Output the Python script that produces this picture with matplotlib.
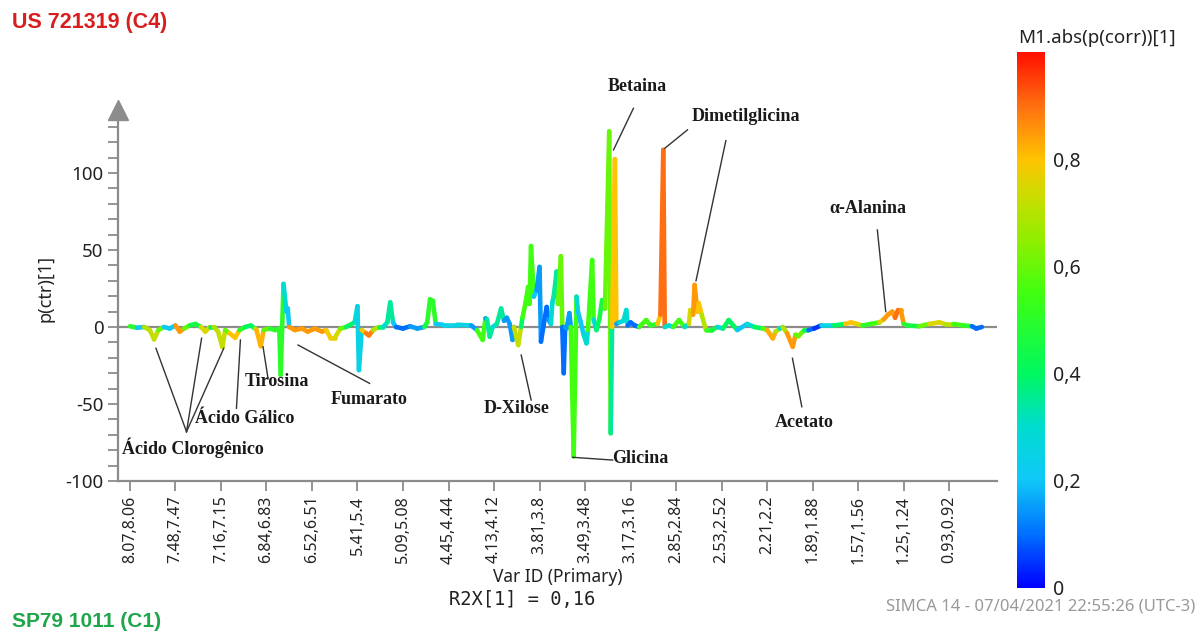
import numpy as np
import matplotlib
matplotlib.use("Agg")
import matplotlib.pyplot as plt
from matplotlib.collections import LineCollection
from matplotlib.colors import LinearSegmentedColormap, Normalize
from matplotlib.cm import ScalarMappable

# loading p(ctr)[1] per variable (index along Var ID axis) and |p(corr)| colour value
var_idx = [0, 5, 10, 14, 17, 20, 24, 28, 32, 35, 38, 42, 46, 50, 53, 56, 59, 62, 65, 67,
           70, 74, 77, 81, 85, 88, 89, 92, 94, 98, 102, 105, 106, 108, 110, 111, 112, 116, 121, 125,
           130, 135, 138, 141, 144, 148, 152, 158, 160, 161, 163, 166, 168, 171, 175, 178, 181, 183, 185, 187,
           192, 197, 202, 207, 209, 211, 213, 215, 220, 230, 240, 244, 248, 250, 251, 253, 255, 258, 261, 263,
           265, 267, 269, 270, 273, 275, 276, 278, 280, 281, 282, 284, 286, 288, 289, 291, 293, 294, 296, 297,
           298, 300, 301, 303, 304, 305, 306, 307, 309, 310, 312, 314, 315, 317, 319, 321, 322, 325, 326, 328,
           330, 332, 334, 337, 338, 339, 341, 342, 344, 347, 349, 350, 352, 355, 358, 363, 366, 371, 373, 375,
           376, 379, 382, 386, 390, 393, 394, 396, 397, 399, 400, 402, 405, 409, 413, 417, 421, 427, 434, 439,
           445, 448, 452, 454, 457, 459, 462, 466, 468, 470, 474, 477, 481, 486, 495, 503, 507, 511, 515, 521,
           527, 530, 533, 536, 538, 540, 542, 544, 547, 555, 562, 569, 573, 579, 586, 592, 595, 599]
p_ctr = [0.5, -0.5, 0, -2, -8, -2, 0, -1, 1, -3, -1, 1, 2, 0, -3, 0, 0, -3, -13, -2,
         -4, -7, -2, 0, 1, -1, -2, -12.5, -2, -1, -2, -1, -31, 28, 10, 12, 0, -2, -1, -3,
         -1, -3, -2, -7, -7, -1, 0, 3, 13.5, -28, -2, -4, -5.5, -2, 0, 0, 3, 16, 3, 0,
         -1, 0.5, -1, 0, 3, 18, 17, 2, 1.5, 1.5, 1, -2, -8.4, 5.6, 5, -6.3, 0, 2, 12, 4,
         6, 2, -8.4, 0, -11.7, 0, 6, 15, 26, 15, 52.6, 19.7, 24, 39, -9.5, 2, 13, 5, 2, 16,
         20, 36, 15, 46, 0, -30, 0, -1, 9, 0, -84, 19.7, 10, 3, -5, -10.6, -2, 43.5, 5, -2,
         5, 17.5, 12, 127, -69, 0, 109, 2, 3, 4, 11, 1, 3, 1, 0, 4.5, 1, 2, 8, 115,
         0, 1, 0, 4.5, 0, 2, 11, 8, 27.3, 10, 15.3, 8, -2, -2, 0, -1, 4.5, -2, 2, 0,
         -1, -2, -7.4, -3, -1, 0, -4, -12.8, -5, -6, -2, -2, -1, 1, 1, 2, 3, 2, 1, 2,
         3, 5, 8, 10, 6, 11, 11, 2, 1, 0.5, 2, 3, 2, 2, 1, 0.5, -1, 0]
abs_corr = [0.5, 0.2, 0.4, 0.7, 0.72, 0.6, 0.3, 0.2, 0.5, 0.85, 0.6, 0.5, 0.45, 0.2, 0.75, 0.4, 0.15, 0.7, 0.72, 0.6,
            0.6, 0.8, 0.5, 0.15, 0.4, 0.5, 0.7, 0.82, 0.6, 0.6, 0.5, 0.5, 0.5, 0.3, 0.15, 0.2, 0.15, 0.85, 0.7, 0.85,
            0.75, 0.85, 0.7, 0.78, 0.75, 0.6, 0.5, 0.4, 0.3, 0.25, 0.3, 0.8, 0.88, 0.7, 0.4, 0.2, 0.3, 0.35, 0.2, 0.1,
            0.1, 0.2, 0.15, 0.2, 0.45, 0.5, 0.5, 0.2, 0.25, 0.25, 0.25, 0.15, 0.55, 0.15, 0.1, 0.35, 0.3, 0.3, 0.35, 0.2,
            0.15, 0.2, 0.15, 0.2, 0.72, 0.4, 0.4, 0.55, 0.55, 0.5, 0.55, 0.4, 0.2, 0.15, 0.1, 0.1, 0.1, 0.15, 0.3, 0.3,
            0.3, 0.35, 0.5, 0.6, 0.15, 0.1, 0.15, 0.15, 0.15, 0.3, 0.55, 0.3, 0.2, 0.2, 0.2, 0.3, 0.3, 0.55, 0.3, 0.2,
            0.4, 0.45, 0.5, 0.6, 0.35, 0.3, 0.8, 0.3, 0.15, 0.3, 0.3, 0.2, 0.1, 0.1, 0.2, 0.55, 0.4, 0.5, 0.8, 0.9,
            0.2, 0.3, 0.3, 0.55, 0.3, 0.3, 0.75, 0.6, 0.85, 0.7, 0.8, 0.7, 0.5, 0.45, 0.2, 0.3, 0.4, 0.2, 0.3, 0.25,
            0.4, 0.6, 0.83, 0.7, 0.3, 0.15, 0.7, 0.85, 0.75, 0.6, 0.4, 0.1, 0.05, 0.25, 0.25, 0.4, 0.8, 0.75, 0.55, 0.5,
            0.55, 0.75, 0.85, 0.85, 0.8, 0.9, 0.85, 0.5, 0.45, 0.3, 0.6, 0.75, 0.7, 0.55, 0.5, 0.3, 0.1, 0.2]

tick_labels = ["8.07,8.06", "7.48,7.47", "7.16,7.15", "6.84,6.83", "6.52,6.51", "5.41,5.4",
               "5.09,5.08", "4.45,4.44", "4.13,4.12", "3.81,3.8", "3.49,3.48", "3.17,3.16",
               "2.85,2.84", "2.53,2.52", "2.21,2.2", "1.89,1.88", "1.57,1.56", "1.25,1.24",
               "0.93,0.92"]
tick_pos = [32 * i for i in range(len(tick_labels))]

cmap = LinearSegmentedColormap.from_list("simca", [
    (0.0, "#0000ff"), (0.1, "#0070ff"), (0.2, "#10c8f8"), (0.3, "#00dcd0"),
    (0.4, "#00f860"), (0.55, "#40ff10"), (0.65, "#90ee00"), (0.75, "#d8d800"),
    (0.8, "#ffc400"), (0.9, "#ff7010"), (1.0, "#ff1000")])
norm = Normalize(0, 1)

fig = plt.figure(figsize=(12, 6.34), dpi=100)
ax = fig.add_axes([0.0983, 0.2413, 0.7325, 0.6073])

x = np.array(var_idx, dtype=float)
y = np.array(p_ctr, dtype=float)
c = np.array(abs_corr)
segs = [[(x[i], y[i]), (x[i + 1], y[i + 1])] for i in range(len(x) - 1)]
seg_c = [c[i] if abs(y[i]) >= abs(y[i + 1]) else c[i + 1] for i in range(len(x) - 1)]

ax.axhline(0, color="#8c8c8c", lw=1.6, zorder=1)
lc = LineCollection(segs, colors=cmap(norm(seg_c)), linewidths=3.3,
                    capstyle="round", joinstyle="round", zorder=2)
ax.add_collection(lc)

ax.set_xlim(-8.4, 609.6)
ax.set_ylim(-100, 150)

gray = "#8c8c8c"
for s in ["top", "right"]:
    ax.spines[s].set_visible(False)
ax.spines["left"].set_bounds(-100, 136)
for s in ["left", "bottom"]:
    ax.spines[s].set_color(gray)
    ax.spines[s].set_linewidth(1.6)
ax.plot([-8.4], [141], marker="^", color=gray, markersize=15, clip_on=False, zorder=3)

ax.set_yticks([-100, -50, 0, 50, 100])
ax.set_yticklabels(["-100", "-50", "0", "50", "100"])
ax.set_yticks(np.arange(-90, 131, 10), minor=True)
ax.tick_params(axis="y", which="both", colors=gray, length=7, width=1.3, labelcolor="#222222",
               labelsize=13.5)
ax.set_xticks(tick_pos)
ax.set_xticklabels(tick_labels, rotation=90)
ax.tick_params(axis="x", colors=gray, length=7, width=1.3, labelcolor="#222222", labelsize=11.5)
for t in ax.get_xticklabels() + ax.get_yticklabels():
    t.set_family("Noto Sans")

ax.set_ylabel("p(ctr)[1]", fontsize=13, family="Noto Sans", color="#222222", labelpad=8)
fig.text(0.465, 0.09, "Var ID (Primary)", fontsize=12.5, family="Noto Sans",
         color="#222222", ha="center", va="center")
fig.text(0.435, 0.055, "R2X[1] = 0,16", fontsize=13.5, family="DejaVu Sans Mono",
         color="#222222", ha="center", va="center")

# annotations (text pos, list of leader lines) in data coords
notes = [
    ("Betaina", (357, 156), [((354, 142), (340, 115))]),
    ("Dimetilglicina", (433, 137), [((392, 128), (376, 116)), ((419, 121), (398, 30))]),
    ("\u03b1-Alanina", (519, 77), [((525.5, 63), (531.4, 10))]),
    ("Acetato", (474, -62.3), [((465.8, -20.3), (472.4, -51.8))]),
    ("Glicina", (359, -85.1), [((311.3, -84.6), (339.4, -86.4))]),
    ("D-Xilose", (272, -52.6), [((275.1, -18.2), (282.1, -47.4))]),
    ("Fumarato", (168, -46.8), [((118.2, -11.7), (168.5, -36.6))]),
    ("Tirosina", (103, -35.7), [((93.6, -12.8), (97.1, -33.3))]),
    ("\u00c1cido G\u00e1lico", (81, -59.7), [((77.7, -8.4), (74.9, -52.8))]),
    ("\u00c1cido Clorog\u00eanico", (44, -78.6), [((18.3, -13.8), (39.8, -68)),
                                                    ((50.4, -7.3), (39.8, -68)),
                                                    ((66, -13.8), (39.8, -68))]),
]
for label, (tx, ty), lines in notes:
    ax.text(tx, ty, label, fontsize=13, fontweight="bold", family="Liberation Serif",
            color="#1a1a1a", ha="center", va="center", clip_on=False)
    for (x0, y0), (x1, y1) in lines:
        ax.plot([x0, x1], [y0, y1], color="#333333", lw=1.0, clip_on=False, zorder=4)

# colour bar
cax = fig.add_axes([0.8475, 0.0726, 0.0233, 0.845])
cb = fig.colorbar(ScalarMappable(norm=norm, cmap=cmap), cax=cax)
cb.outline.set_visible(False)
cb.set_ticks([0, 0.2, 0.4, 0.6, 0.8])
cb.set_ticklabels(["0", "0,2", "0,4", "0,6", "0,8"])
cax.tick_params(length=0, labelsize=14, pad=6, labelcolor="#222222")
for t in cax.get_yticklabels():
    t.set_family("Noto Sans")
fig.text(0.914, 0.94, "M1.abs(p(corr))[1]", fontsize=13.5, family="Noto Sans",
         color="#222222", ha="center", va="center")

fig.text(0.01, 0.965, "US 721319 (C4)", fontsize=15.5, fontweight="bold",
         family="Liberation Sans", color="#d81e1e", va="center")
fig.text(0.01, 0.02, "SP79 1011 (C1)", fontsize=15, fontweight="bold",
         family="Liberation Sans", color="#1fa64a", va="center")
fig.text(0.996, 0.043, "SIMCA 14 - 07/04/2021 22:55:26 (UTC-3)", fontsize=12,
         family="Noto Sans", color="#999999", ha="right", va="center")

fig.savefig("out.png", dpi=100)
